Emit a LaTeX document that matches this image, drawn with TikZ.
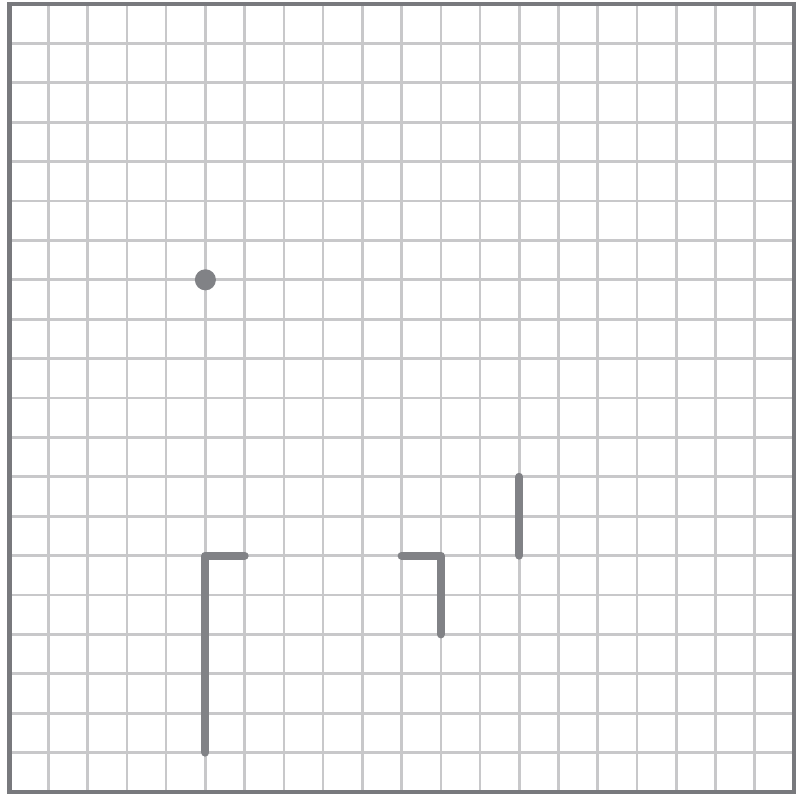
\documentclass[tikz,border=0pt]{standalone}
\definecolor{gridc}{RGB}{200,200,202}
\definecolor{framec}{RGB}{120,121,125}
\definecolor{inkc}{RGB}{129,130,134}
\tikzset{
  gridline/.style={draw=gridc, line width=2pt},
  frameline/.style={draw=framec, line width=3.6pt},
  stroke/.style={draw=inkc, line width=6pt, line cap=round, line join=round},
  dotmark/.style={fill=inkc}
}
\begin{document}
\begin{tikzpicture}
\useasboundingbox (0,0) rectangle (600pt,-594.75pt);
\fill[white] (0,0) rectangle (600pt,-594.75pt);
\begin{scope}[shift={(6.9pt,-3pt)}, x=29.43pt, y=-29.55pt]
  \foreach \k in {1,...,19} {
    \draw[gridline] (\k,0) -- (\k,20);
    \draw[gridline] (0,\k) -- (20,\k);
  }
  \draw[frameline] (0,0) rectangle (20,20);
  \coordinate (d) at (5,7);
  \fill[dotmark] (d) circle (7.9pt);
  \coordinate (a1) at (5,19);
  \coordinate (a2) at (5,14);
  \coordinate (a3) at (6,14);
  \draw[stroke] (a1) -- (a2) -- (a3);
  \coordinate (b1) at (10,14);
  \coordinate (b2) at (11,14);
  \coordinate (b3) at (11,16);
  \draw[stroke] (b1) -- (b2) -- (b3);
  \coordinate (c1) at (13,12);
  \coordinate (c2) at (13,14);
  \draw[stroke] (c1) -- (c2);
\end{scope}
\end{tikzpicture}
\end{document}
